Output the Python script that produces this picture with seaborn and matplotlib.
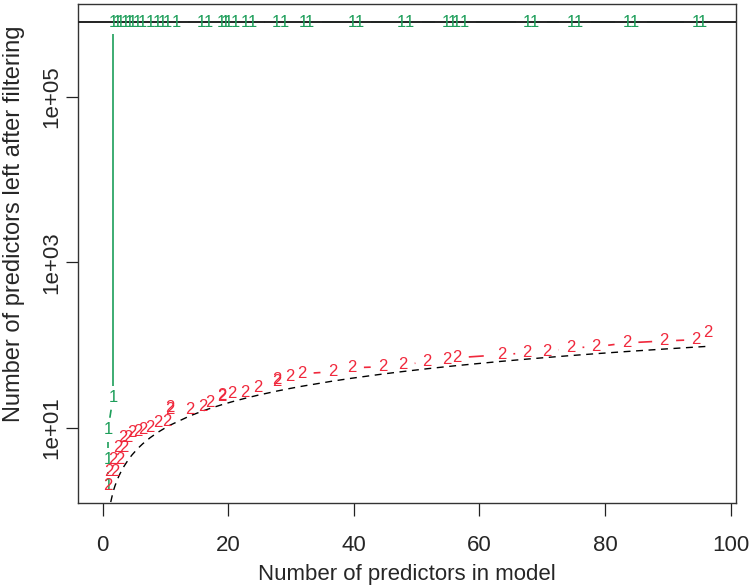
import numpy as np
import matplotlib
matplotlib.use("Agg")
import matplotlib.pyplot as plt
import seaborn as sns

# method 1 (green): once the model has 2+ predictors nothing gets filtered
green_x = [0.87, 0.87, 0.87, 1.67, 1.67, 2.3, 2.9, 3.6, 4.2, 4.8, 5.5, 6.4, 7.6, 8.8,
           9.6, 10.4, 11.7, 15.8, 16.9, 19.0, 19.6, 20.0, 21.1, 22.8, 23.8, 27.7, 29.0,
           31.9, 33.0, 39.7, 40.9, 47.6, 48.9, 54.8, 55.7, 56.4, 57.6, 67.7, 68.8, 74.6,
           75.8, 83.5, 84.7, 94.5, 95.5]
total_predictors = 8.0e5
green_y = [2.0, 4.1, 9.5, 23.0] + [total_predictors] * (len(green_x) - 4)

# method 2 (red)
red_x = [0.9, 1.0, 2.0, 1.7, 2.8, 2.5, 3.4, 3.3, 4.1, 4.7, 5.6, 6.4, 7.6, 8.8, 10.3,
         10.7, 10.7, 13.9, 16.0, 17.1, 19.0, 19.0, 20.6, 22.7, 24.7, 27.7, 27.7, 29.8,
         31.7, 36.6, 39.7, 44.6, 47.8, 51.7, 54.8, 56.4, 63.5, 67.6, 70.7, 74.5, 78.6,
         83.4, 89.4, 94.5, 96.4]
red_y = [2.0, 3.0, 3.0, 4.1, 4.1, 5.7, 5.7, 7.6, 7.6, 8.7, 9.0, 9.5, 10.0, 11.5, 11.8,
         16.5, 17.5, 16.5, 17.9, 20.0, 23.7, 24.5, 25.8, 26.5, 30.4, 35.9, 37.9, 41.3,
         45.0, 47.5, 53.1, 54.6, 57.7, 62.8, 66.4, 70.2, 76.3, 80.6, 82.8, 92.6, 95.2,
         106.0, 112.0, 116.0, 141.0]

# reference: left == model size
ref_x = sorted(set(red_x))
ref_y = ref_x

GREEN = "#1d9e5a"
RED = "#f0283c"

sns.set_style("ticks")
plt.rcParams["font.family"] = ["Liberation Sans", "DejaVu Sans"]

fig = plt.figure(figsize=(7.5, 5.87), dpi=100)
ax = fig.add_axes([0.104, 0.143, 0.877, 0.850])
ax.set_yscale("log")
ax.set_xlim(-3.9, 100.8)
ax.set_ylim(10 ** 0.09, 10 ** 6.12)


def gapped(xs, ys, gap=12):
    # type="b" style: line segments stop short of each point
    pts = ax.transData.transform(np.column_stack([xs, ys]))
    inv = ax.transData.inverted()
    segs = []
    for p0, p1 in zip(pts[:-1], pts[1:]):
        d = np.hypot(*(p1 - p0))
        if d <= 2 * gap:
            continue
        u = (p1 - p0) / d
        segs.append(inv.transform([p0 + u * gap, p1 - u * gap]))
    return segs


sns.lineplot(x=ref_x, y=ref_y, ax=ax, color="black", lw=1.0, estimator=None,
             sort=False, dashes=False, linestyle=(0, (5, 4)))

for s in gapped(green_x, green_y):
    ax.plot(s[:, 0], s[:, 1], color=GREEN, lw=1.2, solid_capstyle="butt")
for s in gapped(red_x, red_y):
    ax.plot(s[:, 0], s[:, 1], color=RED, lw=1.2, linestyle=(0, (9, 6)))

ax.axhline(total_predictors, color="#222222", lw=1.4, zorder=5)

for x, y in zip(green_x, green_y):
    ax.text(x, y, "1", color=GREEN, fontsize=12, ha="center", va="center", zorder=6)
for x, y in zip(red_x, red_y):
    ax.text(x, y, "2", color=RED, fontsize=12, ha="center", va="center", zorder=6)

ax.set_xticks([0, 20, 40, 60, 80, 100])
ax.set_yticks([10, 1e3, 1e5])
ax.set_yticklabels(["1e+01", "1e+03", "1e+05"], rotation=90, va="center")
ax.minorticks_off()
ax.tick_params(axis="both", labelsize=16, length=9, width=0.9, color="#222222")
ax.tick_params(axis="x", pad=14)
ax.tick_params(axis="y", pad=2)
for sp in ax.spines.values():
    sp.set_color("#333333")
    sp.set_linewidth(1.0)

ax.set_xlabel("Number of predictors in model", fontsize=16, labelpad=6)
ax.set_ylabel("Number of predictors left after filtering", fontsize=17)
ax.yaxis.set_label_coords(-0.08, 0.56)

fig.savefig("out.png", dpi=100)
